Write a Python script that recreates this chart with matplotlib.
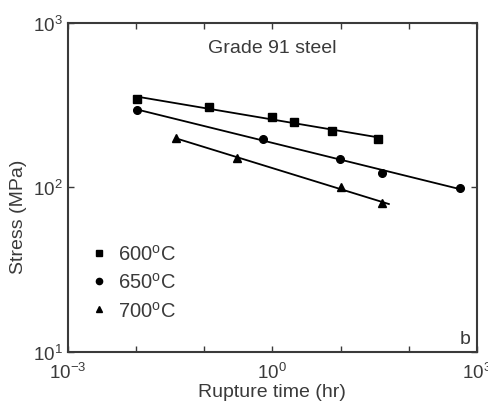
import numpy as np
import matplotlib
matplotlib.use("Agg")
import matplotlib.pyplot as plt
from matplotlib.lines import Line2D

plt.rcParams['font.family'] = ['Liberation Sans', 'DejaVu Sans']
plt.rcParams['mathtext.fontset'] = 'custom'
plt.rcParams['mathtext.rm'] = 'Liberation Sans'
plt.rcParams['mathtext.it'] = 'Liberation Sans'

# =========================
# DATA
# =========================
t_600 = [0.0102, 0.118, 1.0, 2.08, 7.4, 35.5]
s_600 = [345, 307, 269, 249, 221, 197]

t_650 = [0.0102, 0.72, 9.7, 41, 570]
s_650 = [296, 197, 149, 123, 99]

t_700 = [0.039, 0.30, 10.3, 41]
s_700 = [199, 151, 100, 80]

labels = ['600$^{\\rm o}$C', '650$^{\\rm o}$C', '700$^{\\rm o}$C']
markers = ['s', 'o', '^']

gray = '#3a3a3a'

fig = plt.figure(figsize=(4.89, 4.06), dpi=100)
fig.subplots_adjust(left=0.139, right=0.975, top=0.941, bottom=0.131)
ax = fig.add_subplot(111)

series = [(t_600, s_600), (t_650, s_650), (t_700, s_700)]
ext = [1.0, 1.0, 1.25]
for (t, s), m, e in zip(series, markers, ext):
    lt, ls = np.log10(t), np.log10(s)
    k, b = np.polyfit(lt, ls, 1)
    xx = np.array([lt.min(), lt.max() + np.log10(e)])
    ax.plot(10 ** xx, 10 ** (k * xx + b), color='black', lw=1.3)
    ax.plot(t, s, linestyle='none', marker=m, color='black', ms=5.5)

ax.set_xscale('log')
ax.set_yscale('log')
ax.set_xlim(1e-3, 1e3)
ax.set_ylim(10, 1000)

xt = [10.0 ** p for p in range(-3, 4)]
ax.set_xticks(xt)
ax.set_xticklabels(['$10^{-3}$', '', '', '$10^{0}$', '', '', '$10^{3}$'])
ax.xaxis.set_minor_locator(matplotlib.ticker.NullLocator())
ax.set_yticks([10, 100, 1000])
ax.set_yticklabels(['$10^{1}$', '$10^{2}$', '$10^{3}$'])
ax.yaxis.set_minor_locator(matplotlib.ticker.NullLocator())

ax.tick_params(direction='in', top=True, right=True, length=4, width=1,
               color=gray, labelcolor=gray, labelsize=13.5)
ax.tick_params(axis='x', pad=7)
ax.tick_params(axis='y', pad=4)
for sp in ax.spines.values():
    sp.set_color(gray)
    sp.set_linewidth(1.5)

ax.set_xlabel('Rupture time (hr)', fontsize=14, color=gray, labelpad=1)
ax.set_ylabel('Stress (MPa)', fontsize=14, color=gray)
ax.yaxis.set_label_coords(-0.10, 0.413)

ax.text(0.5, 0.925, 'Grade 91 steel', transform=ax.transAxes, ha='center',
        va='center', fontsize=14, color=gray)
ax.text(0.985, 0.015, 'b', transform=ax.transAxes, ha='right', va='bottom',
        fontsize=14, color=gray)

handles = [Line2D([], [], linestyle='none', marker=m, color='black', ms=4.5)
           for m in markers]
ax.legend(handles, labels, loc='lower left', bbox_to_anchor=(0.008, 0.04),
          frameon=False, fontsize=14.5, handletextpad=0.4, labelspacing=0.42,
          labelcolor=gray, handlelength=1.0)

plt.savefig('out.png', dpi=100)
